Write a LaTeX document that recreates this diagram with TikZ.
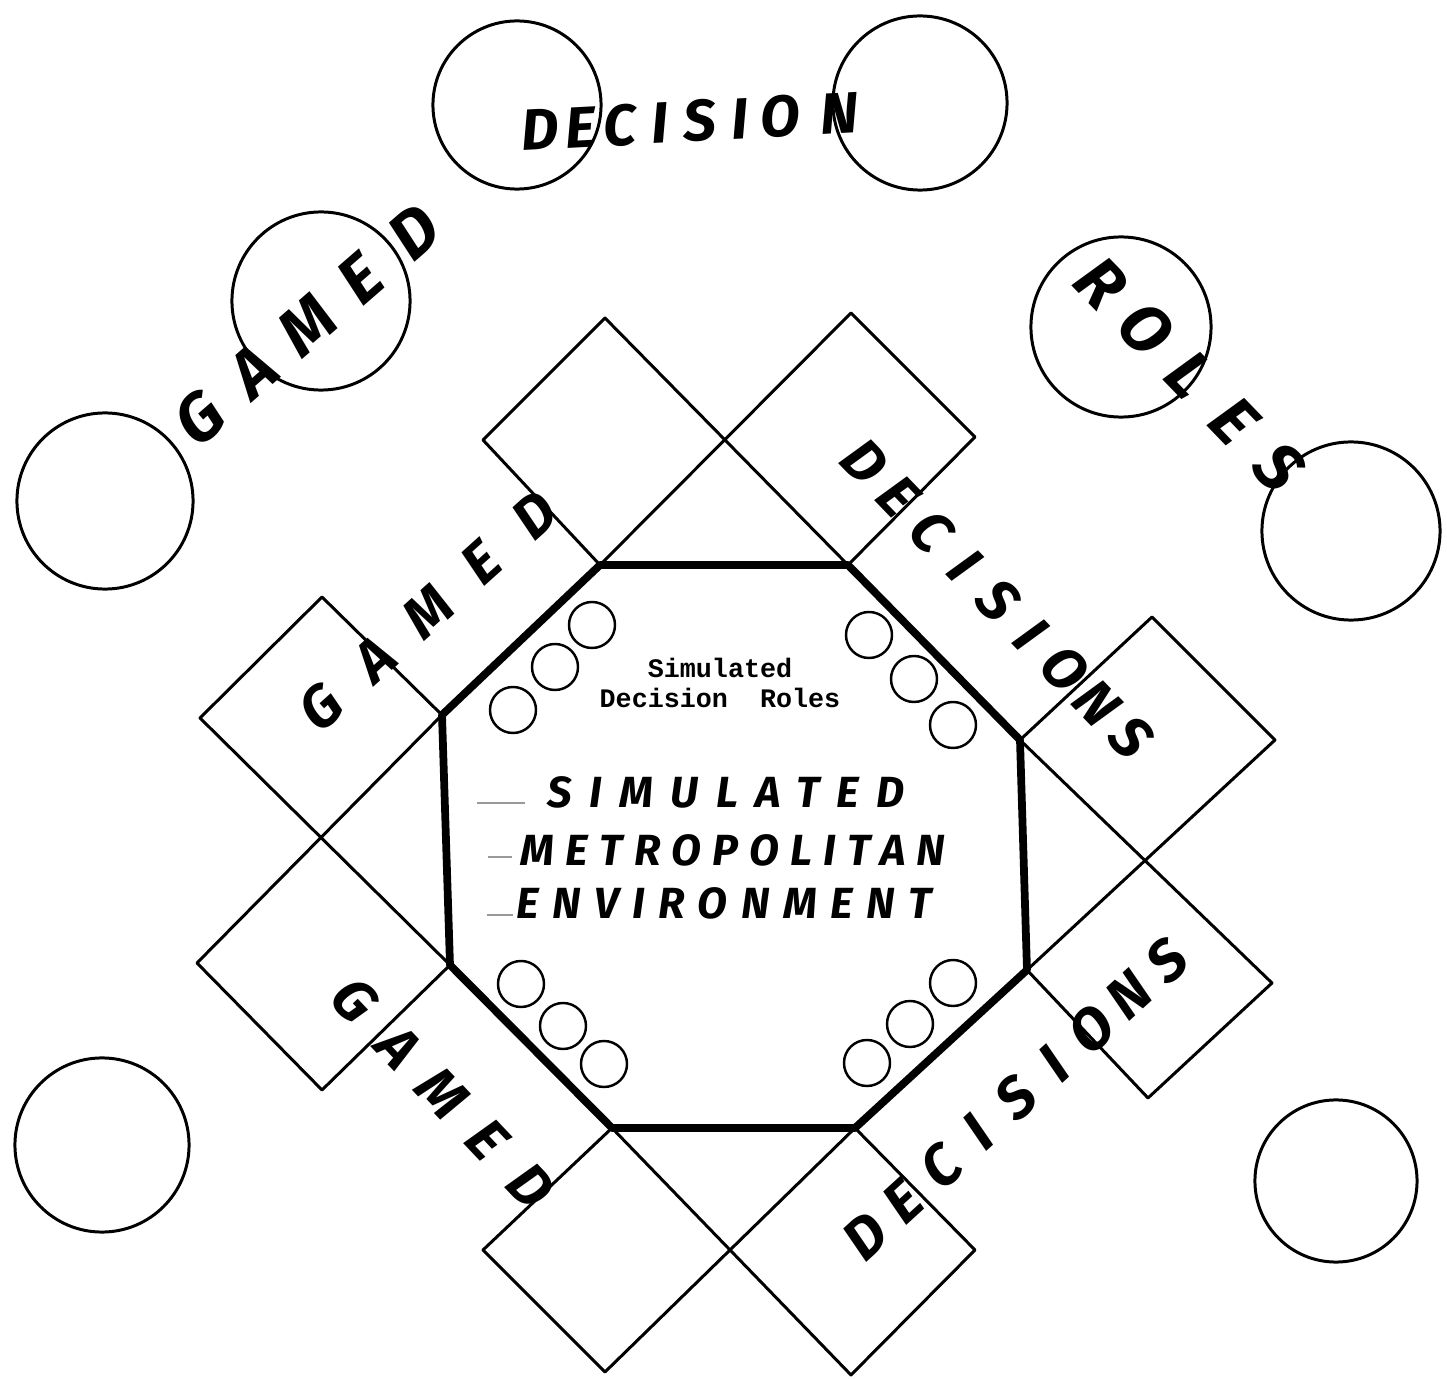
\documentclass[tikz,border=0pt]{standalone}
\usepackage{fontspec}
\usepackage{tikz}
\newfontfamily\handfont{Fira Sans}
\newfontfamily\typefont{Liberation Mono}
\newcommand\pitched[2]{\foreach \c in {#2}{\makebox[#1]{\c}}}

\begin{document}
\begin{tikzpicture}[x=0.01cm, y=-0.01cm, line join=round,
    ring/.style={draw, circle, line width=0.85pt, inner sep=0pt, minimum size=#1*0.02cm},
    seat/.style={draw, circle, line width=0.7pt, inner sep=0pt, minimum size=0.46cm},
    rim/.style={line width=2.2pt},
    tile/.style={line width=0.85pt},
    hand/.style={font=\handfont\bfseries\itshape\fontsize{#1}{#1}\selectfont, inner sep=0pt},
    bigtext/.style={font=\handfont\bfseries\itshape\fontsize{12.4}{12.4}\selectfont\addfontfeature{LetterSpace=#1}, inner sep=0pt},
    typed/.style={font=\typefont\bfseries\fontsize{7.6}{8.6}\selectfont, align=center, inner sep=0pt},
    scratch/.style={line width=0.45pt, gray!80}]
  \useasboundingbox (0,0) rectangle (1447,1379);

  \foreach \x/\y/\r [count=\i] in {517/105/84, 920/103/87, 321/301/89, 1121/327/90,
      105/501/88, 1351/531/89, 102/1145/87, 1336/1181/81}
    \node[ring=\r] (ring-\i) at (\x,\y) {};

  \coordinate (o1) at (600,565);
  \coordinate (o2) at (848,565);
  \coordinate (o3) at (1020,740);
  \coordinate (o4) at (1027,970);
  \coordinate (o5) at (855,1128);
  \coordinate (o6) at (612,1128);
  \coordinate (o7) at (450,965);
  \coordinate (o8) at (442,715);

  \draw[tile] (o1) -- (851,313) -- (975,437) -- (o2) -- (605,318) -- (483,440) -- cycle;
  \draw[tile] (o3) -- (1152,617) -- (1275,740) -- (o4) -- (1148,1098) -- (1272,983) -- cycle;
  \draw[tile] (o6) -- (483,1250) -- (605,1372) -- (o5) -- (975,1250) -- (851,1375) -- cycle;
  \draw[tile] (o8) -- (322,597) -- (200,718) -- (o7) -- (322,1090) -- (197,963) -- cycle;

  \draw[rim] (o1) -- (o2) -- (o3) -- (o4) -- (o5) -- (o6) -- (o7) -- (o8) -- cycle;

  \foreach \x/\y [count=\i] in {592/625, 555/667, 513/710, 869/635, 914/679, 953/725,
      521/984, 563/1026, 604/1064, 953/983, 910/1024, 867/1063}
    \node[seat] (seat-\i) at (\x,\y) {};

  \node[typed] (simroles) at (720,683) {Simulated\\Decision\ \ Roles};

  \node[bigtext=40] (sim) at (726,792) {SIMULATED};
  \node[bigtext=26] (metro) at (733,850) {METROPOLITAN};
  \node[bigtext=31] (env) at (724,903) {ENVIRONMENT};
  \draw[scratch] (477,803) -- (525,803);
  \draw[scratch] (488,857) -- (512,857);
  \draw[scratch] (487,915) -- (513,915);

  \node[hand=16.5, rotate=3] (outdecision) at (700,121)
    {\pitched{0.4cm}{D,E,C,I,S,I,O}\makebox[0.8cm]{N}};
  \node[hand=19, rotate=41] (outgamed) at (307,325) {\pitched{0.71cm}{G,A,M,E,D}};
  \node[hand=19, rotate=-46] (outroles) at (1190,375) {\pitched{0.64cm}{R,O,L,E,S}};

  \node[hand=16.5, rotate=42] (gamed-ul) at (428,611) {\pitched{0.72cm}{G,A,M,E,D}};
  \node[hand=16.5, rotate=-46] (decisions-ur) at (998,600) {\pitched{0.478cm}{D,E,C,I,S,I,O,N,S}};
  \node[hand=16.5, rotate=-46.5] (gamed-ll) at (443,1093) {\pitched{0.64cm}{G,A,M,E,D}};
  \node[hand=16.5, rotate=42.4] (decisions-lr) at (1016,1098) {\pitched{0.51cm}{D,E,C,I,S,I,O,N,S}};
\end{tikzpicture}
\end{document}
